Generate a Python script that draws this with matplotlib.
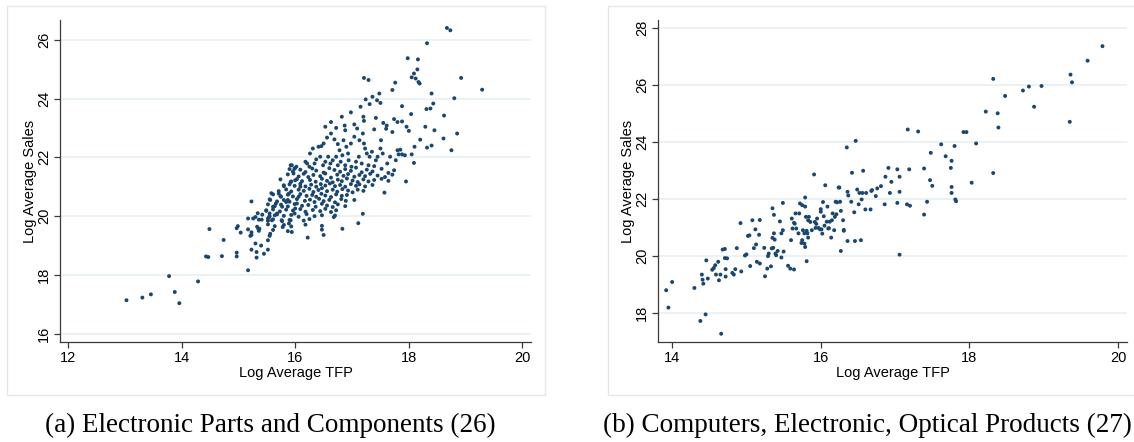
import matplotlib.pyplot as plt
from matplotlib.patches import Rectangle

plt.rcParams['font.family'] = 'Liberation Sans'

# Panel (a): Electronic Parts and Components (26)
tfp_a = [
    13.03, 13.31, 13.46, 13.78, 13.88, 13.96, 14.29, 14.43, 14.47, 14.49, 14.71, 14.74,
    14.97, 14.97, 14.97, 14.99, 15.04, 15.17, 15.17, 15.23, 15.21, 15.23, 15.26, 15.30,
    15.23, 15.30, 15.32, 15.32, 15.34, 15.35, 15.37, 15.33, 15.40, 15.41, 15.45, 15.49,
    15.52, 15.52, 15.52, 15.54, 15.55, 15.56, 15.58, 15.56, 15.59, 15.61, 15.64, 15.68,
    15.66, 15.71, 15.75, 15.77, 15.80, 15.76, 15.78, 15.84, 15.87, 15.89, 15.92, 15.94,
    15.97, 15.99, 16.00, 15.89, 15.92, 15.94, 15.99, 16.00, 16.03, 16.06, 16.09,
    # upper band
    17.71, 17.76, 17.48, 17.36, 17.24, 17.44, 17.50, 17.31, 17.15, 17.88, 18.31, 18.38,
    18.43, 18.40, 16.98, 18.04, 18.62, 16.82, 17.20, 17.42, 17.74, 16.63, 17.21, 17.55,
    17.61, 17.80, 17.88, 16.53, 16.72, 16.87, 17.04, 17.96, 18.29, 18.00, 18.45, 18.85,
    17.71, 17.60, 17.39, 16.88, 17.09,
    18.67, 18.73, 18.32, 17.98, 18.16, 18.15, 18.09, 18.05, 18.12, 18.17, 18.19, 17.21,
    17.29, 18.92, 19.29, 18.80,
    # 22-23 band
    16.31, 16.41, 16.46, 16.26, 16.50, 16.56, 16.63, 16.69, 16.75, 16.78, 16.85, 16.90,
    16.93, 16.98, 17.04, 17.13, 17.19, 17.21, 17.23, 17.26, 17.31, 17.35, 17.42, 17.45,
    17.50, 17.51, 17.54, 17.62, 17.67, 17.77, 17.80, 17.82, 17.85, 17.88, 17.93, 18.05,
    18.09, 18.10, 18.20, 18.32, 18.40, 18.75, 18.61,
    16.18, 16.21, 16.25, 16.34, 16.37, 16.44, 16.49, 16.53, 16.58, 16.62, 16.66, 16.72,
    16.75, 16.80, 16.83, 16.88, 16.94, 16.99, 17.07, 17.12, 17.17, 17.29, 17.39,
    15.92, 15.99, 16.02,
    # core cluster
    15.90, 15.96, 16.09, 16.18, 16.30, 16.37, 16.50, 16.60, 16.69, 16.79, 16.88, 16.98,
    17.07, 17.17, 17.26, 17.36, 17.52, 17.64, 17.74,
    15.87, 16.06, 16.15, 16.23, 16.32, 16.44, 16.53, 16.63, 16.74, 16.85, 16.93, 17.04,
    17.13, 17.23, 17.32, 17.45, 17.58, 17.71,
    15.74, 15.93, 16.03, 16.12, 16.26, 16.36, 16.47, 16.56, 16.66, 16.75, 16.82, 16.91,
    17.01, 17.10, 17.20, 17.29, 17.39, 17.52, 17.64, 17.95,
    15.80, 15.90, 15.99, 16.09, 16.18, 16.28, 16.37, 16.45, 16.53, 16.61, 16.70, 16.79,
    16.88, 16.98, 17.07, 17.13, 17.23, 17.36,
    15.71, 15.84, 15.93, 16.06, 16.15, 16.25, 16.32, 16.41, 16.47, 16.56, 16.66, 16.74,
    16.83, 16.93, 17.01, 17.10, 17.20,
    15.61, 15.74, 15.87, 15.96, 16.09, 16.20, 16.30, 16.37, 16.46, 16.53, 16.63, 16.72,
    16.82, 16.91, 17.57,
    15.55, 15.68, 15.80, 15.90, 16.03, 16.17, 16.26, 16.34, 16.42, 16.50, 16.60, 16.70,
    16.81, 16.89, 17.04,
    15.52, 15.64, 15.75, 15.87, 15.99, 16.12, 16.23, 16.36, 16.47, 16.56, 16.66, 16.75,
    16.88,
    15.49, 15.61, 15.73, 15.84, 15.96, 16.09, 16.18, 16.31, 16.44, 16.53, 16.63, 16.72,
    15.42, 15.55, 15.68, 15.80, 15.93, 16.06, 16.20, 16.34, 16.47, 16.68, 16.70, 17.19,
    15.36, 15.52, 15.61, 15.77, 15.90, 16.15, 16.25, 17.11,
    15.52, 15.64, 15.80, 15.93, 16.18, 16.47,
    15.17, 15.36, 15.61, 15.87, 16.47, 16.83,
    15.23, 15.55, 16.50, 16.22,
]
sales_a = [
    17.14, 17.23, 17.34, 17.96, 17.42, 17.04, 17.78, 18.63, 18.61, 19.56, 18.64, 19.19,
    18.63, 18.76, 19.59, 19.66, 19.44, 19.92, 18.16, 20.50, 19.33, 19.45, 19.92, 19.97,
    18.86, 19.07, 18.78, 18.59, 20.10, 19.57, 19.57, 19.64, 19.00, 19.88, 18.72, 20.20,
    18.86, 19.18, 19.92, 19.97, 20.09, 20.55, 20.78, 19.40, 19.86, 20.32, 20.03, 20.09,
    20.43, 20.77, 20.66, 20.32, 21.05, 19.86, 19.63, 20.48, 20.55, 20.77, 21.16, 21.73,
    21.45, 21.62, 21.22, 19.75, 19.86, 19.46, 20.09, 20.26, 20.43, 20.66, 21.00,
    # upper band
    24.29, 24.54, 24.17, 24.06, 23.97, 23.94, 23.85, 23.81, 23.72, 23.74, 23.64, 23.66,
    23.83, 24.17, 23.53, 23.47, 23.42, 23.38, 23.38, 23.34, 23.30, 23.20, 23.24, 23.17,
    23.08, 23.20, 23.22, 23.04, 23.00, 23.08, 23.12, 23.04, 23.04, 22.90, 22.92, 22.81,
    22.86, 22.97, 22.95, 22.92, 22.98,
    26.40, 26.32, 25.88, 25.37, 25.33, 24.99, 24.85, 24.72, 24.68, 24.56, 24.51, 24.70,
    24.63, 24.70, 24.30, 24.01,
    # 22-23 band
    22.30, 22.36, 22.38, 22.13, 22.47, 22.67, 22.81, 22.61, 22.45, 22.24, 22.58, 22.36,
    22.13, 22.47, 22.70, 22.58, 22.81, 22.47, 22.30, 22.13, 22.02, 22.19, 21.90, 22.02,
    22.30, 22.58, 22.13, 21.79, 22.02, 21.90, 22.24, 22.10, 22.26, 22.10, 22.07, 22.10,
    21.81, 22.36, 22.60, 22.33, 22.40, 22.24, 22.64,
    21.85, 21.79, 21.68, 21.79, 21.93, 22.02, 21.73, 21.85, 22.02, 21.79, 21.90, 22.02,
    21.73, 21.85, 22.07, 21.73, 21.90, 21.68, 21.85, 22.02, 21.79, 21.73, 21.70,
    21.73, 21.62, 21.68,
    # core cluster
    21.60, 21.52, 21.58, 21.50, 21.62, 21.55, 21.48, 21.63, 21.57, 21.51, 21.60, 21.54,
    21.65, 21.49, 21.58, 21.52, 21.61, 21.47, 21.56,
    21.42, 21.35, 21.44, 21.33, 21.40, 21.36, 21.45, 21.31, 21.41, 21.37, 21.43, 21.34,
    21.40, 21.36, 21.44, 21.38, 21.33, 21.41,
    21.25, 21.18, 21.26, 21.19, 21.23, 21.17, 21.27, 21.20, 21.15, 21.24, 21.19, 21.28,
    21.21, 21.16, 21.25, 21.18, 21.23, 21.27, 21.20, 21.18,
    21.02, 21.08, 21.03, 21.10, 21.01, 21.07, 21.00, 21.09, 21.04, 21.11, 21.02, 21.06,
    21.00, 21.09, 21.03, 21.08, 21.01, 21.06,
    20.85, 20.91, 20.84, 20.90, 20.86, 20.93, 20.82, 20.89, 20.95, 20.85, 20.90, 20.83,
    20.92, 20.87, 20.81, 20.90, 20.86,
    20.74, 20.68, 20.73, 20.67, 20.75, 20.69, 20.72, 20.66, 20.76, 20.70, 20.65, 20.74,
    20.69, 20.72, 20.80,
    20.57, 20.50, 20.55, 20.49, 20.58, 20.52, 20.56, 20.48, 20.59, 20.51, 20.55, 20.47,
    20.58, 20.52, 20.55,
    20.40, 20.34, 20.39, 20.33, 20.41, 20.35, 20.38, 20.32, 20.42, 20.36, 20.31, 20.40,
    20.34,
    20.18, 20.23, 20.16, 20.22, 20.19, 20.24, 20.15, 20.21, 20.17, 20.25, 20.14, 20.20,
    20.05, 19.99, 20.06, 20.01, 20.04, 19.98, 20.07, 20.00, 20.03, 19.97, 20.02, 20.08,
    19.88, 19.84, 19.89, 19.83, 19.87, 19.85, 19.90, 19.76,
    19.72, 19.66, 19.70, 19.65, 19.71, 19.67,
    19.55, 19.50, 19.53, 19.49, 19.54, 19.57,
    19.36, 19.33, 19.36, 19.27,
]

# Panel (b): Computers, Electronic, Optical Products (27)
tfp_b = [
    13.92, 13.95, 14.00, 14.30, 14.38, 14.40, 14.41, 14.42, 14.45, 14.46, 14.48, 14.54,
    14.56, 14.58, 14.59, 14.62, 14.63, 14.65, 14.66, 14.68, 14.71, 14.71, 14.72, 14.72,
    14.74, 14.81, 14.83, 14.85, 14.87, 14.93, 14.92, 14.98, 15.00, 15.02, 15.04, 15.05,
    15.08, 15.10, 15.12, 15.13, 15.14, 15.17, 15.18, 15.18, 15.24, 15.25, 15.28, 15.29,
    15.30, 15.33, 15.34, 15.35, 15.36, 15.35, 15.37, 15.37, 15.38, 15.40, 15.42, 15.39,
    15.45, 15.47, 15.49, 15.49, 15.50, 15.47, 15.56, 15.59, 15.64, 15.60, 15.61, 15.62,
    15.64, 15.65, 15.66, 15.67, 15.70, 15.71, 15.72, 15.74, 15.75, 15.75, 15.76, 15.78,
    15.78, 15.79, 15.79, 15.79, 15.80, 15.81, 15.81, 15.82, 15.83, 15.83, 15.84, 15.86,
    15.88, 15.91, 15.92, 15.93, 15.94, 15.95, 15.97, 15.99, 16.00, 16.00, 16.01, 16.02,
    16.03, 16.04, 16.05, 16.06, 16.08, 16.09, 16.10, 16.11, 16.12, 16.14, 16.15, 16.16,
    16.18, 16.19, 16.20, 16.21, 16.22, 16.24, 16.25, 16.26, 16.27, 16.27, 16.30, 16.31,
    16.31, 16.35, 16.36, 16.37, 16.36, 16.41, 16.42, 16.45, 16.46, 16.47, 16.49, 16.51,
    16.52, 16.54, 16.55, 16.56, 16.57, 16.60, 16.61, 16.68, 16.69, 16.67, 16.74, 16.76,
    16.81, 16.86, 16.87, 16.91, 16.93, 16.95, 17.03, 17.06, 17.06, 17.03, 17.06, 17.16,
    17.17, 17.19, 17.20, 17.31, 17.39, 17.39, 17.43, 17.47, 17.48, 17.50, 17.62, 17.68,
    17.75, 17.76, 17.76, 17.76, 17.80, 17.81, 17.82, 17.92, 17.96, 18.03, 18.09, 18.22,
    18.32, 18.32, 18.38, 18.39, 18.48, 18.72, 18.80, 18.87, 18.97, 19.35, 19.36, 19.38,
    19.59, 19.79,
]
sales_b = [
    18.79, 18.18, 19.08, 18.87, 17.71, 19.34, 19.16, 19.02, 17.94, 19.84, 19.20, 19.51,
    19.57, 19.67, 19.34, 19.79, 19.14, 19.34, 17.26, 20.22, 20.24, 19.92, 19.53, 19.27,
    19.91, 19.40, 19.34, 19.53, 20.27, 19.45, 21.15, 20.01, 20.05, 20.70, 20.72, 19.64,
    21.25, 20.27, 20.93, 20.40, 19.79, 20.74, 21.26, 19.73, 20.28, 19.28, 19.55, 19.99,
    20.08, 19.63, 20.26, 20.63, 20.28, 21.67, 21.44, 20.79, 20.57, 20.02, 20.17, 20.08,
    21.21, 20.79, 20.90, 21.86, 20.15, 19.94, 19.65, 19.55, 19.52, 20.55, 21.31, 20.96,
    21.16, 21.13, 21.49, 20.96, 20.79, 21.49, 21.84, 20.45, 20.55, 21.78, 20.90, 20.43,
    20.79, 21.73, 22.05, 20.31, 21.37, 19.81, 20.88, 20.79, 20.64, 21.25, 21.37, 21.19,
    20.90, 22.86, 21.19, 20.98, 21.12, 21.31, 20.98, 20.93, 21.64, 21.55, 20.93, 20.78,
    21.89, 21.39, 21.06, 22.48, 21.20, 21.73, 20.96, 20.97, 21.20, 20.64, 21.25, 21.49,
    20.90, 21.37, 21.90, 21.46, 21.88, 22.40, 22.40, 21.90, 21.58, 20.17, 21.25, 20.88,
    20.91, 23.81, 22.25, 22.12, 20.52, 21.90, 22.92, 21.53, 20.52, 24.04, 22.33, 21.81,
    22.21, 20.55, 21.98, 22.21, 22.99, 21.63, 22.21, 22.28, 22.31, 21.63, 22.10, 22.37,
    22.45, 21.81, 22.78, 23.09, 22.21, 22.60, 23.04, 22.78, 22.25, 21.86, 20.04, 21.81,
    24.44, 23.04, 21.76, 24.37, 23.07, 21.45, 21.90, 22.66, 23.62, 22.46, 23.92, 23.50,
    23.09, 23.34, 22.42, 22.21, 23.86, 21.98, 21.92, 24.35, 24.35, 22.57, 23.95, 25.07,
    26.22, 22.91, 25.01, 24.51, 25.62, 25.81, 25.95, 25.24, 25.97, 24.71, 26.37, 26.10,
    26.86, 27.37,
]

xticks_a = [12, 14, 16, 18, 20]
yticks_a = [16, 18, 20, 22, 24, 26]
xticks_b = [14, 16, 18, 20]
yticks_b = [18, 20, 22, 24, 26, 28]

caption_a = "(a) Electronic Parts and Components (26)"
caption_b = "(b) Computers, Electronic, Optical Products (27)"

navy = '#1a476f'
grid_col = '#e6eff1'

fig = plt.figure(figsize=(11.34, 4.42), dpi=100)

# cajas de fondo de cada panel
for x0 in [7 / 1134, 608 / 1134]:
    fig.patches.append(Rectangle((x0, 1 - 395 / 442), 538 / 1134, 389 / 442,
                                 transform=fig.transFigure, fill=False,
                                 edgecolor='#e3e7ea', linewidth=1.0))

ax_a = fig.add_axes([60 / 1134, 1 - 342 / 442, 471 / 1134, 322 / 442])
ax_b = fig.add_axes([658 / 1134, 1 - 342 / 442, 469 / 1134, 322 / 442])


def estilo(ax, xs, ys, xticks, yticks, xlim, ylim):
    ax.scatter(xs, ys, s=8, color=navy, edgecolors='none', zorder=3)
    ax.set_xlim(xlim)
    ax.set_ylim(ylim)
    ax.set_xticks(xticks)
    ax.set_yticks(yticks)
    for y in yticks:
        ax.axhline(y, color=grid_col, lw=1.1, zorder=1)
    for s in ['top', 'right']:
        ax.spines[s].set_visible(False)
    for s in ['left', 'bottom']:
        ax.spines[s].set_color('#3a3a3a')
        ax.spines[s].set_linewidth(0.9)
    ax.tick_params(axis='both', direction='out', length=4.5, width=0.9,
                   color='#3a3a3a', labelsize=10.5, pad=2)
    for lab in ax.get_yticklabels():
        lab.set_rotation(90)
        lab.set_va('center')
    ax.set_xlabel('Log Average TFP', fontsize=10.5, labelpad=1)
    ax.set_ylabel('Log Average Sales', fontsize=10.5, labelpad=0)


estilo(ax_a, tfp_a, sales_a, xticks_a, yticks_a, (11.86, 20.15), (15.72, 26.67))
estilo(ax_b, tfp_b, sales_b, xticks_b, yticks_b, (13.81, 20.12), (16.97, 28.29))

fig.text(270 / 1134, 1 - 425 / 442, caption_a, ha='center', va='center',
         fontsize=19.5, family='Liberation Serif')
fig.text(867 / 1134, 1 - 425 / 442, caption_b, ha='center', va='center',
         fontsize=19.5, family='Liberation Serif')

fig.savefig('out.png', dpi=100)
